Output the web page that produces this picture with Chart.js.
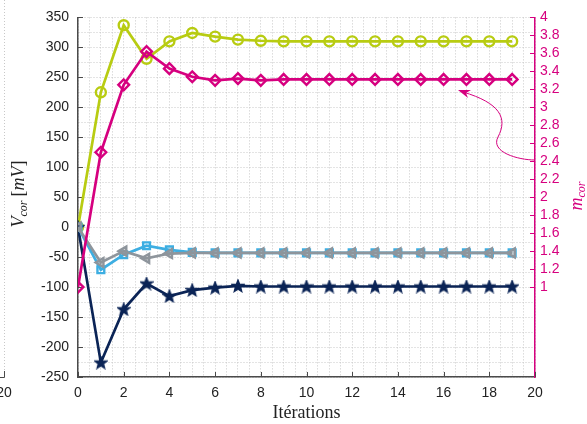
<!DOCTYPE html>
<html><head><meta charset="utf-8">
<script src="https://cdn.jsdelivr.net/npm/chart.js@4"></script>
<style>html,body{margin:0;padding:0;background:#fff;} #wrap{position:relative;width:587px;height:424px;}</style>
</head><body><div id="wrap"><canvas id="c" width="587" height="424"></canvas></div>
<script>
const iterations = [0,1,2,3,4,5,6,7,8,9,10,11,12,13,14,15,16,17,18,19];
const vcorGreen = [0,225,337,281,310,324,318,313,311,310,310,310,310,310,310,310,310,310,310,310];
const vcorBlue  = [0,-71,-46,-31,-38,-42,-43,-43,-43,-43,-43,-43,-43,-43,-43,-43,-43,-43,-43,-43];
const vcorGray  = [0,-59,-40,-52,-44,-43,-43,-43,-43,-43,-43,-43,-43,-43,-43,-43,-43,-43,-43,-43];
const vcorNavy  = [0,-226,-137,-94,-115,-105,-101,-98,-99,-99,-99,-99,-99,-99,-99,-99,-99,-99,-99,-99];
const mcor      = [1,2.5,3.25,3.62,3.43,3.34,3.30,3.32,3.30,3.31,3.31,3.31,3.31,3.31,3.31,3.31,3.31,3.31,3.31,3.31];
const xTickLabels = [0,2,4,6,8,10,12,14,16,18,20];
const yTickLabels = [-250,-200,-150,-100,-50,0,50,100,150,200,250,300,350];
const y2TickLabels = [1,1.2,1.4,1.6,1.8,2,2.2,2.4,2.6,2.8,3,3.2,3.4,3.6,3.8,4];

const GREEN='#b8cc12', MAG='#d6007f', BLUE='#3daee2', GRAY='#8e959c', NAVY='#0b2456';
const AXIS='#4a4a4a', GRID='#c8c8c8';
const TICKFONT={family:'"Liberation Sans", Arial, sans-serif',size:14};

function starCanvas(color){
  const c=document.createElement('canvas'); c.width=14; c.height=14;
  const g=c.getContext('2d'); g.beginPath();
  for(let k=0;k<10;k++){
    const r = k%2===0 ? 6.5 : 2.8;
    const a = -Math.PI/2 + k*Math.PI/5;
    const px=7+r*Math.cos(a), py=7.4+r*Math.sin(a);
    k===0?g.moveTo(px,py):g.lineTo(px,py);
  }
  g.closePath(); g.fillStyle=color; g.fill(); g.lineWidth=1.2; g.strokeStyle=color; g.stroke();
  return c;
}
const pts = a => a.map((v,i)=>({x:iterations[i], y:v}));

function drawRich(ctx, segs, cx, cy, rot, color){
  ctx.save();
  ctx.translate(cx,cy); ctx.rotate(rot);
  let total=0;
  segs.forEach(s=>{ctx.font=s.font; s.w=ctx.measureText(s.t).width+(s.gap||0); total+=s.w;});
  let x=-total/2;
  ctx.fillStyle=color; ctx.textBaseline='alphabetic'; ctx.textAlign='left';
  segs.forEach(s=>{ctx.font=s.font; ctx.fillText(s.t,x,(s.dy||0)+5); x+=s.w;});
  ctx.restore();
}

const decor = {
  id:'decor',
  beforeDatasetsDraw(chart){
    const ctx=chart.ctx, a=chart.chartArea, sx=chart.scales.x, sy=chart.scales.y, sy2=chart.scales.y2;
    ctx.save();
    ctx.lineWidth=1;
    ctx.strokeStyle=AXIS;
    ctx.beginPath();
    yTickLabels.forEach(v=>{const p=Math.round(sy.getPixelForValue(v))+0.5; ctx.moveTo(a.left,p); ctx.lineTo(a.left+5,p);});
    xTickLabels.forEach(v=>{const p=Math.round(sx.getPixelForValue(v))+0.5; ctx.moveTo(p,a.bottom); ctx.lineTo(p,a.bottom-5);});
    ctx.stroke();
    ctx.strokeStyle=MAG;
    ctx.beginPath();
    y2TickLabels.forEach(v=>{const p=Math.round(sy2.getPixelForValue(v))+0.5; ctx.moveTo(a.right,p); ctx.lineTo(a.right-5,p);});
    ctx.stroke();
    // fragment of neighbouring plot at the far left
    ctx.strokeStyle=GRID; ctx.setLineDash([1,2]);
    ctx.beginPath(); ctx.moveTo(4.5,0); ctx.lineTo(4.5,a.bottom-6); ctx.stroke();
    ctx.setLineDash([]); ctx.strokeStyle=AXIS;
    ctx.beginPath(); ctx.moveTo(4.5,a.bottom-6); ctx.lineTo(4.5,a.bottom+0.5); ctx.lineTo(0,a.bottom+0.5); ctx.stroke();
    ctx.fillStyle='#222'; ctx.font='14px "Liberation Sans"'; ctx.textAlign='center'; ctx.textBaseline='middle';
    ctx.fillText('20',4,a.bottom+16);
    ctx.restore();
  },
  afterDraw(chart){
    const ctx=chart.ctx, a=chart.chartArea;
    const F='"Liberation Serif"';
    drawRich(ctx,[
      {t:'V',font:'italic 18px '+F},
      {t:'cor',font:'italic 12px '+F,dy:3,gap:4},
      {t:'[',font:'18px '+F},
      {t:'mV',font:'italic 18px '+F},
      {t:']',font:'18px '+F}
    ],19,194,-Math.PI/2,'#222');
    drawRich(ctx,[
      {t:'m',font:'italic 18px '+F},
      {t:'cor',font:'italic 12px '+F,dy:3}
    ],577,196,-Math.PI/2,MAG);
    ctx.save();
    ctx.fillStyle='#222'; ctx.font='18px '+F; ctx.textAlign='center'; ctx.textBaseline='alphabetic';
    ctx.fillText('Itérations',(a.left+a.right)/2,418);
    ctx.restore();
    // curved annotation arrow pointing at the m_cor curve
    ctx.save();
    ctx.strokeStyle=MAG; ctx.fillStyle=MAG; ctx.lineWidth=1;
    ctx.beginPath();
    ctx.moveTo(a.right,160);
    ctx.bezierCurveTo(518,160,490,152,498,137);
    ctx.bezierCurveTo(508,118,500,103,463,92);
    ctx.stroke();
    ctx.beginPath();
    ctx.moveTo(458,90); ctx.lineTo(471,90); ctx.lineTo(466,93); ctx.lineTo(468,98); ctx.closePath(); ctx.fill();
    ctx.restore();
  }
};

const ds = (label,data,color,style,axis,extra)=>Object.assign({
  label, data:pts(data), yAxisID:axis, borderColor:color, backgroundColor:'rgba(255,255,255,0)',
  borderWidth:2.7, pointStyle:style, pointRadius:4.8, pointBorderWidth:2.4,
  pointBorderColor:color, pointBackgroundColor:'rgba(255,255,255,0)', tension:0
},extra||{});

new Chart(document.getElementById('c'),{
  type:'line',
  data:{datasets:[
    ds('m_cor',mcor,MAG,'rectRot','y2',{pointRadius:5.4}),
    ds('gris',vcorGray,GRAY,'triangle','y',{pointRotation:-90,pointRadius:5.2,pointBackgroundColor:'rgba(142,149,156,0.35)'}),
    ds('bleu',vcorBlue,BLUE,'rect','y',{pointRadius:4.8}),
    ds('marine',vcorNavy,NAVY,starCanvas(NAVY),'y'),
    ds('vert',vcorGreen,GREEN,'circle','y',{pointRadius:5})
  ]},
  options:{
    responsive:false, animation:false, devicePixelRatio:1,
    layout:{padding:{top:16,left:0,right:0,bottom:0}},
    plugins:{legend:{display:false},tooltip:{enabled:false}},
    scales:{
      x:{type:'linear',position:'bottom',min:0,max:20,
        afterFit:s=>{s.height=47;},
        ticks:{stepSize:0.5,autoSkip:false,maxRotation:0,padding:8,color:'#222',font:TICKFONT,
          callback:v=>xTickLabels.includes(v)?String(v):''},
        grid:{color:GRID,lineWidth:1,drawTicks:false},
        border:{color:AXIS,width:1.5,dash:[1,2]}},
      y:{type:'linear',position:'left',min:-250,max:350,
        afterFit:s=>{s.width=78;},
        ticks:{stepSize:25,autoSkip:false,padding:9,color:'#222',font:TICKFONT,
          callback:v=>yTickLabels.includes(v)?String(v):''},
        grid:{color:GRID,lineWidth:1,drawTicks:false},
        border:{color:AXIS,width:1.5,dash:[1,2]}},
      y2:{type:'linear',position:'right',min:0,max:4,
        afterFit:s=>{s.width=52;},
        afterBuildTicks:s=>{s.ticks=s.ticks.filter(t=>t.value>=0.999);},
        ticks:{stepSize:0.2,autoSkip:false,padding:5,color:MAG,font:TICKFONT,
          callback:v=>String(Math.round(v*10)/10)},
        grid:{display:false,drawTicks:false},
        border:{color:MAG,width:1.5}}
    }
  },
  plugins:[decor]
});
</script></body></html>
